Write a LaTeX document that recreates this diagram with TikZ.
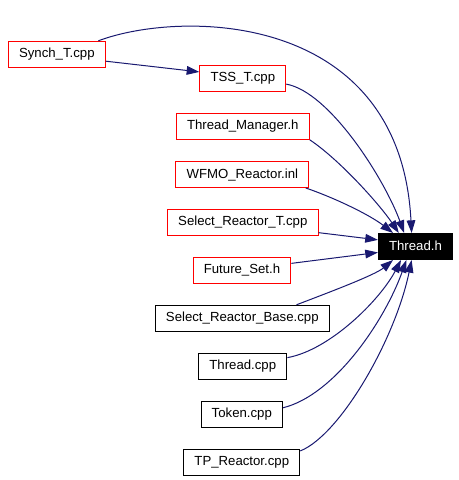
\documentclass[tikz,border=0pt]{standalone}
\usepackage{fontspec}
\setmainfont{Liberation Sans}
\usetikzlibrary{arrows.meta}

\definecolor{edgeblue}{RGB}{25,25,112}

\tikzset{
  filebox/.style={draw, line width=0.75pt, inner xsep=8pt, inner ysep=0pt,
    minimum height=19.5pt, text height=7.3pt, text depth=2pt,
    font=\fontsize{9.9}{12}\selectfont},
  docbox/.style={filebox, draw=black},
  undocbox/.style={filebox, draw=red},
  mainbox/.style={filebox, draw=black, fill=black, text=white},
  dep/.style={draw=edgeblue, line width=0.75pt, -{Triangle[length=9.5pt,width=6.5pt]}}
}

\begin{document}
\begin{tikzpicture}[x=0.75pt,y=0.75pt,yscale=-1]
  \useasboundingbox (0,0) rectangle (459,480);

  % Main file
  \node [mainbox] (threadh) at (415.5,246.5) {Thread.h};

  % Files that include it
  \node [undocbox] (synch) at (56.8,54.3) {Synch\_T.cpp};
  \node [undocbox] (tss) at (242.8,78) {TSS\_T.cpp};
  \node [undocbox] (tmgr) at (242.8,126.3) {Thread\_Manager.h};
  \node [undocbox] (wfmo) at (242.3,174.5) {WFMO\_Reactor.inl};
  \node [undocbox] (selt) at (242.8,222) {Select\_Reactor\_T.cpp};
  \node [undocbox] (fset) at (242,270.3) {Future\_Set.h};
  \node [docbox] (selbase) at (242.3,318.3) {Select\_Reactor\_Base.cpp};
  \node [docbox] (threadcpp) at (242.8,366.3) {Thread.cpp};
  \node [docbox] (token) at (241.8,414.3) {Token.cpp};
  \node [docbox] (tpr) at (241.8,462.3) {TP\_Reactor.cpp};

  % Edges
  \draw [dep] (synch.352) -- (tss.172);
  \draw [dep] (synch.18) .. controls (180,10) and (400,10) .. (threadh.106);
  \draw [dep] (tss.-8) .. controls (330,92) and (385,180) .. (threadh.130);
  \draw [dep] (tmgr.south east) .. controls (340,160) and (380,205) .. (threadh.141);
  \draw [dep] (wfmo.-12) .. controls (335,198) and (370,215) .. (threadh.149);
  \draw [dep] (selt.-8) -- (threadh.170);
  \draw [dep] (fset.8) -- (threadh.189);
  \draw [dep] (selbase.14) .. controls (330,292) and (375,275) .. (threadh.211);
  \draw [dep] (threadcpp.11) .. controls (330,350) and (380,300) .. (threadh.223);
  \draw [dep] (token.9) .. controls (335,395) and (385,320) .. (threadh.236);
  \draw [dep] (tpr.11) .. controls (340,435) and (395,340) .. (threadh.254);
\end{tikzpicture}
\end{document}
